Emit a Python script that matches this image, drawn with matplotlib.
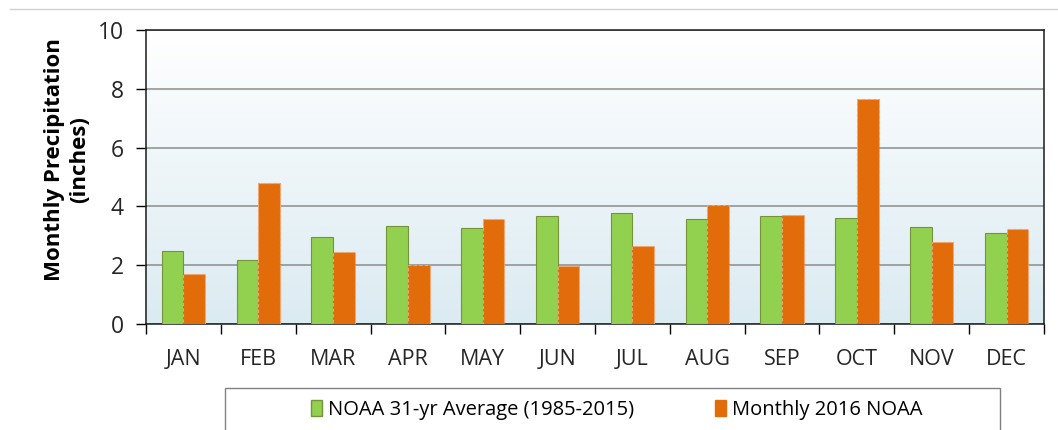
import numpy as np
import matplotlib
matplotlib.use("Agg")
import matplotlib.pyplot as plt
from matplotlib.patches import Patch, Rectangle
from matplotlib.lines import Line2D

plt.rcParams['font.family'] = ['Open Sans', 'DejaVu Sans']

# --- data ---
months = ['JAN', 'FEB', 'MAR', 'APR', 'MAY', 'JUN',
          'JUL', 'AUG', 'SEP', 'OCT', 'NOV', 'DEC']
avg_31yr = [2.48, 2.17, 2.95, 3.35, 3.27, 3.69, 3.79, 3.56, 3.69, 3.61, 3.30, 3.08]
monthly_2016 = [1.69, 4.79, 2.44, 2.00, 3.57, 1.97, 2.66, 4.06, 3.70, 7.67, 2.79, 3.22]
yticks = [0, 2, 4, 6, 8, 10]

green = '#92d050'
orange = '#e36c0a'

fig = plt.figure(figsize=(10.58, 4.30), dpi=100)
ax = fig.add_axes([146/1058, 1 - 324/430, (1044 - 146)/1058, (324 - 30)/430])

# gradient background, white at top to pale blue at bottom
grad = np.linspace(0, 1, 256).reshape(-1, 1)
cmap = matplotlib.colors.LinearSegmentedColormap.from_list('bg', ['#dbebf2', '#ffffff'])
ax.imshow(grad, aspect='auto', cmap=cmap, origin='lower',
          extent=[0, 1, 0, 1], transform=ax.transAxes, zorder=0)

x = np.arange(len(months))
w = 0.29
ax.bar(x - w/2, avg_31yr, w, color=green, edgecolor='#76923c', linewidth=0.8, zorder=3)
ax.bar(x + w/2, monthly_2016, w, color=orange, edgecolor='#f4a46a', linewidth=0.8,
       linestyle=(0, (3, 2)), zorder=3)

ax.set_xlim(-0.5, len(months) - 0.5)
ax.set_ylim(0, 10)
ax.set_yticks(yticks)
ax.set_xticks(x)
ax.set_xticklabels(months)
ax.set_xticks(np.arange(-0.5, len(months), 1), minor=True)
ax.tick_params(axis='x', which='major', length=0, pad=18, labelsize=15.5, labelcolor='#262626')
ax.tick_params(axis='x', which='minor', length=7, direction='out', width=1)
ax.tick_params(axis='y', length=7, direction='out', width=1, labelsize=16.5, pad=9,
               labelcolor='#262626')

ax.yaxis.grid(True, color='#8c8c8c', linewidth=1.1, zorder=1)
ax.set_axisbelow(True)
for s in ax.spines.values():
    s.set_color('#1a1a1a')
    s.set_linewidth(1.1)

ax.set_ylabel('Monthly Precipitation\n(inches)', fontsize=16, fontweight='bold',
              linespacing=1.3)
ax.yaxis.set_label_coords(-0.062, 0.56)

# thin gray line across the top of the figure
fig.add_artist(Line2D([10/1058, 1], [1 - 9/430, 1 - 9/430], color='#d0d0d0', linewidth=1))

# legend box (cut off by the bottom edge)
fig.add_artist(Rectangle((225/1058, -0.1), 775/1058, 0.1 + (430 - 388)/430,
                         transform=fig.transFigure, facecolor='white',
                         edgecolor='#808080', linewidth=1))
handles = [Patch(facecolor=green, edgecolor='#76923c', label='NOAA 31-yr Average (1985-2015)'),
           Patch(facecolor=orange, edgecolor=orange, label='Monthly 2016 NOAA')]
fig.legend(handles=handles, loc='center', bbox_to_anchor=(617/1058, 1 - 410/430),
           ncol=2, frameon=False, fontsize=14.5, handlelength=0.55, handleheight=0.8,
           handletextpad=0.3, columnspacing=4.0)

fig.savefig('out.png', dpi=100)
